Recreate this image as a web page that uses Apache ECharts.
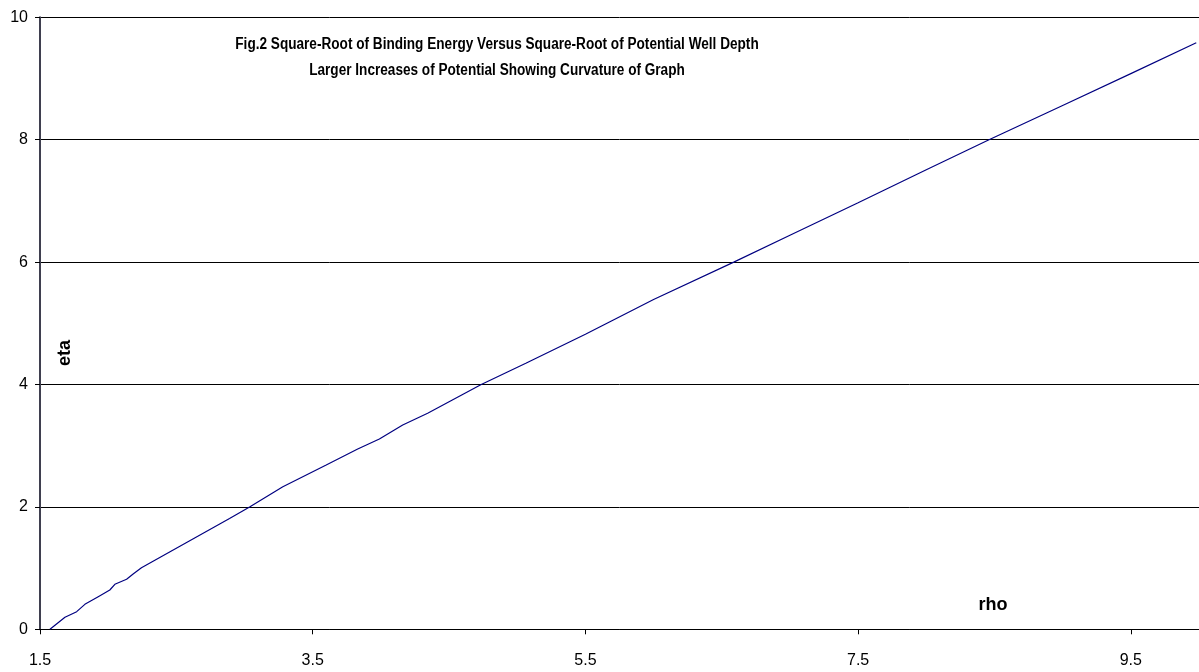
<!DOCTYPE html>
<html>
<head>
<meta charset="utf-8">
<script src="https://cdn.jsdelivr.net/npm/echarts@6/dist/echarts.min.js"></script>
<style>html,body{margin:0;padding:0;background:#fff;}#c{width:1199px;height:672px;}</style>
</head>
<body>
<div id="c"></div>
<script>
var titleLines = ["Fig.2 Square-Root of Binding Energy Versus Square-Root of Potential Well Depth",
                  "Larger Increases of Potential Showing Curvature of Graph"];
var xName = "rho";
var yName = "eta";
var xTicks = [1.5, 3.5, 5.5, 7.5, 9.5];
var rho = [1.573, 1.683, 1.769, 1.829, 1.927, 2.012, 2.049, 2.135, 2.183, 2.244, 2.89, 3.037, 3.281, 3.599, 3.83, 3.989, 4.16, 4.343, 4.736, 5.063, 5.5, 6.0, 6.588, 7.0, 7.5, 8.0, 8.46, 9.0, 9.5, 9.98];
var eta = [0.0, 0.196, 0.288, 0.408, 0.533, 0.642, 0.735, 0.817, 0.904, 1.007, 1.81, 2.0, 2.33, 2.685, 2.946, 3.109, 3.338, 3.529, 4.0, 4.346, 4.82, 5.39, 6.0, 6.44, 6.97, 7.51, 8.0, 8.56, 9.08, 9.585];

var pts = rho.map(function (r, i) { return [r, eta[i]]; });
var chart = echarts.init(document.getElementById('c'));
var lab = {color: '#000', fontFamily: 'Liberation Sans, Arial, sans-serif', fontSize: 16};
var titleFont = 'bold 16px "Liberation Sans", Arial, sans-serif';
var nameFont = 'bold 19px "Liberation Sans", Arial, sans-serif';
chart.setOption({
  animation: false,
  grid: {left: 40, top: 17.3, width: 1161, height: 612, containLabel: false},
  xAxis: {
    type: 'value', min: 1.5, max: 10,
    axisLine: {onZero: false, lineStyle: {color: '#000', width: 1}},
    axisTick: {show: true, length: 5, inside: false, customValues: xTicks, lineStyle: {color: '#000'}},
    axisLabel: Object.assign({margin: 23, customValues: xTicks, formatter: function (v) { return v.toFixed(1); }}, lab),
    splitLine: {show: false}
  },
  yAxis: {
    type: 'value', min: 0, max: 10, interval: 2,
    axisLine: {show: true, lineStyle: {color: '#3f3f4f', width: 2}},
    axisTick: {show: true, length: 5, lineStyle: {color: '#000'}},
    axisLabel: Object.assign({margin: 12}, lab),
    splitLine: {show: true, lineStyle: {color: '#000', width: 1}}
  },
  series: [{
    type: 'line', data: pts, showSymbol: false, symbol: 'none', smooth: false,
    lineStyle: {color: '#000080', width: 1.2}, clip: true
  }],
  graphic: [
    {type: 'text', x: 497, y: 45, scaleX: 0.85, style: {text: titleLines[0], textAlign: 'center', textVerticalAlign: 'middle', font: titleFont, fill: '#000'}},
    {type: 'text', x: 497, y: 71, scaleX: 0.85, style: {text: titleLines[1], textAlign: 'center', textVerticalAlign: 'middle', font: titleFont, fill: '#000'}},
    {type: 'text', x: 65, y: 353, rotation: Math.PI / 2, scaleX: 0.95, style: {text: yName, textAlign: 'center', textVerticalAlign: 'middle', font: nameFont, fill: '#000'}},
    {type: 'text', x: 993, y: 605, scaleX: 0.95, style: {text: xName, textAlign: 'center', textVerticalAlign: 'middle', font: nameFont, fill: '#000'}}
  ]
});
</script>
</body>
</html>
